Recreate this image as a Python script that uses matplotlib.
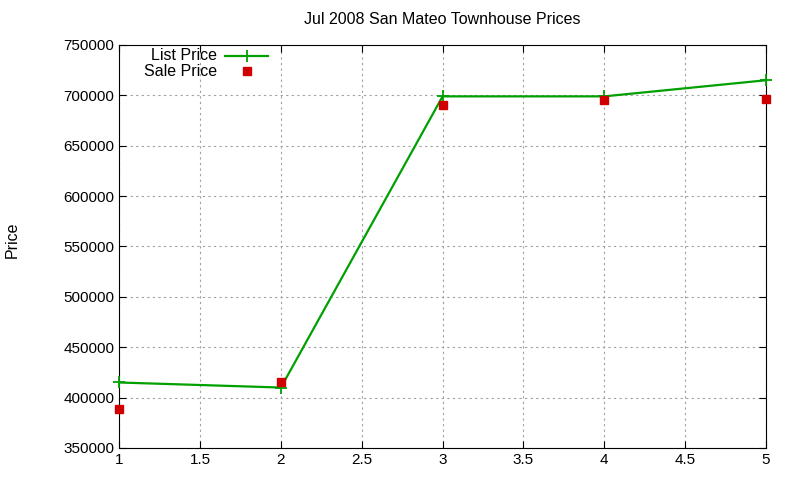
import matplotlib.pyplot as plt

plt.rcParams['font.family'] = ['Liberation Sans', 'DejaVu Sans']

x = [1, 2, 3, 4, 5]
list_price = [415000, 410000, 699000, 699000, 715000]
sale_price = [389000, 415000, 690000, 695000, 696000]

green = '#00a000'
red = '#d00000'

fig = plt.figure(figsize=(8, 4.8), dpi=100)
ax = fig.add_axes([0.149, 0.0667, 0.8085, 0.8396])

ax.plot(x, list_price, color=green, linewidth=1.6, marker='+', markersize=8,
        markeredgewidth=1.3, clip_on=False, zorder=3)
ax.plot(x, sale_price, linestyle='none', color=red, marker='s', markersize=6,
        clip_on=False, zorder=4)

ax.set_xlim(1, 5)
ax.set_ylim(350000, 750000)
ax.set_xticks([1, 1.5, 2, 2.5, 3, 3.5, 4, 4.5, 5])
ax.set_xticklabels(['1', '1.5', '2', '2.5', '3', '3.5', '4', '4.5', '5'])
ax.set_yticks(range(350000, 750001, 50000))
ax.tick_params(direction='in', top=True, right=True, labelsize=11, length=5)
ax.grid(True, color='#a0a0a0', linestyle=(0, (2, 3)), linewidth=0.8)

ax.set_title('Jul 2008 San Mateo Townhouse Prices', fontsize=11.5, pad=15)
fig.text(0.015, 0.5, 'Price', rotation=90, va='center', ha='center', fontsize=11.5)

# legend gnuplot-style: text right aligned, sample to the right
tr = ax.transAxes
ax.text(0.1515, 0.973, 'List Price', transform=tr, ha='right', va='center', fontsize=11.5)
ax.plot([0.164, 0.230], [0.973, 0.973], transform=tr, color=green, linewidth=1.6)
ax.plot([0.197], [0.973], transform=tr, color=green, marker='+', markersize=8,
        markeredgewidth=1.3)
ax.text(0.1515, 0.935, 'Sale Price', transform=tr, ha='right', va='center', fontsize=11.5)
ax.plot([0.197], [0.935], transform=tr, color=red, marker='s', markersize=6)

plt.savefig('out.png')
